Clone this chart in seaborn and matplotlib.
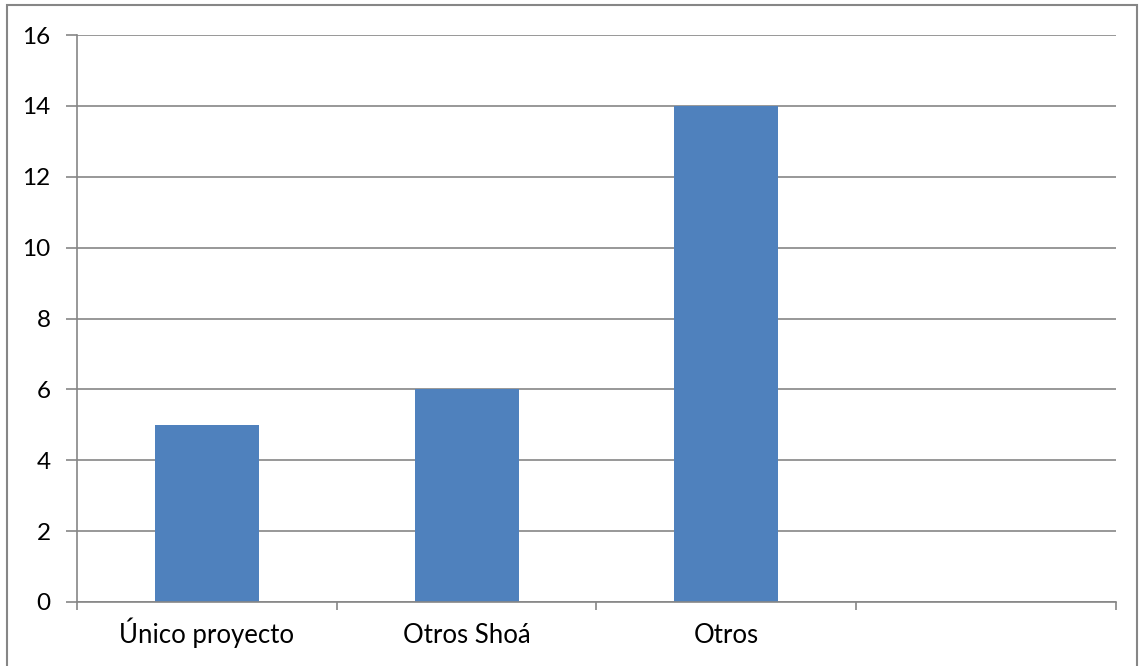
import pandas as pd
import numpy as np
import seaborn as sns
import matplotlib.pyplot as plt
from matplotlib.patches import Rectangle

sns.set_theme(style='white')
plt.rcParams['font.family'] = ['Lato', 'DejaVu Sans']

categories = ["Único proyecto", "Otros Shoá", "Otros"]
values = [5, 6, 14]
n_slots = 4  # the chart keeps an empty fourth category slot
yticks = [0, 2, 4, 6, 8, 10, 12, 14, 16]

df = pd.DataFrame({"cat": categories, "val": values})

fig = plt.figure(figsize=(11.39, 6.66), dpi=100)
ax = fig.add_axes([77 / 1139, 1 - 602 / 666, (1116 - 77) / 1139, (602 - 35) / 666])

sns.barplot(data=df, x="cat", y="val", ax=ax, color="#4F81BD",
            saturation=1, width=0.4, order=categories, linewidth=0)

grid_c = "#868686"
ax.set_xlim(-0.5, n_slots - 0.5)
ax.set_ylim(0, 16)
ax.set_yticks(yticks)
ax.yaxis.grid(True, color=grid_c, linewidth=1.2)
ax.set_axisbelow(True)
ax.set_xlabel("")
ax.set_ylabel("")

for s in ["top", "right"]:
    ax.spines[s].set_visible(False)
for s in ["left", "bottom"]:
    ax.spines[s].set_color(grid_c)
    ax.spines[s].set_linewidth(1.2)

ax.set_xticks(range(len(categories)))
ax.set_xticklabels(categories)
ax.set_xticks(np.arange(-0.5, n_slots, 1.0), minor=True)
ax.tick_params(axis="x", which="major", length=0, pad=29.5, labelsize=18.5, colors="black")
ax.tick_params(axis="x", which="minor", length=6, width=1.2, color=grid_c, direction="out")
ax.tick_params(axis="y", which="major", length=8, width=1.2, color=grid_c,
               direction="out", pad=11, labelsize=17.5, labelcolor="black")
ax.tick_params(axis="both", bottom=True, left=True)
ax.xaxis.set_tick_params(which="minor", bottom=True)
for lab in ax.get_xticklabels():
    lab.set_verticalalignment("baseline")

fig.patches.append(Rectangle((7 / 1139, -0.01), (1137 - 7) / 1139, 1 - 5 / 666 + 0.01,
                             transform=fig.transFigure, fill=False,
                             edgecolor=grid_c, linewidth=1.5))

fig.savefig("out.png", dpi=100)
